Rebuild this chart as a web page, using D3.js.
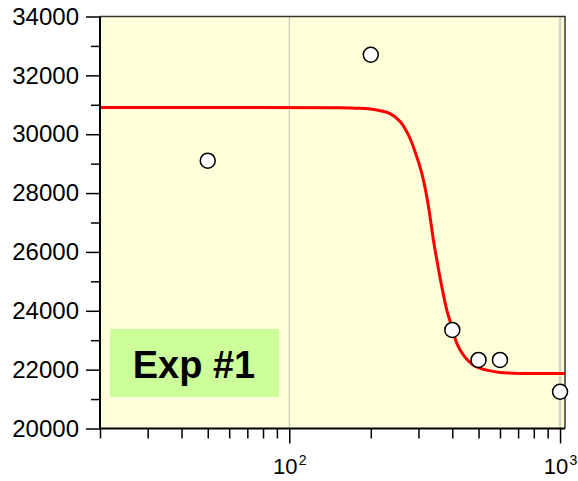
<!DOCTYPE html>
<html>
<head>
<meta charset="utf-8">
<script src="https://cdn.jsdelivr.net/npm/d3@7"></script>
<style>
  html, body { margin: 0; padding: 0; background: #ffffff; }
  svg { display: block; }
  text { font-family: "Liberation Sans", Arial, sans-serif; }
</style>
</head>
<body>
<svg id="chart" width="578" height="481"></svg>
<script>
// ---- data ----
const pointX = [50, 200, 400, 500, 600, 1000];
const pointY = [29100, 32700, 23350, 22330, 22330, 21250];

// fitted curve
const curveX = [20, 154, 182.6, 198.8, 216.5, 235.7, 256.6, 275.4, 291.5, 308.7, 323.7, 340.7, 350.7, 365.9, 381.8, 398.5, 415.8, 439.8, 478.7, 536.5, 600.8, 712.2, 1043];
const curveY = [30905, 30900, 30880, 30855, 30800, 30700, 30429, 29976, 29408, 28673, 27765, 26405, 25724, 24816, 24024, 23456, 22891, 22493, 22153, 21983, 21905, 21871, 21870];

const yMajorTicks = [20000, 22000, 24000, 26000, 28000, 30000, 32000, 34000];
const yMinorTicks = [21000, 23000, 25000, 27000, 29000, 31000, 33000];
const xMajorTicks = [100, 1000];
const xMajorLabels = [["10", "2"], ["10", "3"]];
const xMinorTicks = [20, 30, 40, 50, 60, 70, 80, 90, 200, 300, 400, 500, 600, 700, 800, 900];
const labelText = "Exp #1";

// ---- layout ----
const pLeft = 100, pTop = 16.5, pRight = 565, pBottom = 428.5;
const svg = d3.select("#chart");

const x = d3.scaleLog().domain([20, 1043]).range([pLeft, pRight]);
const y = d3.scaleLinear().domain([20000, 34000]).range([pBottom, pTop]);

// plot background
svg.append("rect")
  .attr("x", pLeft).attr("y", pTop)
  .attr("width", pRight - pLeft).attr("height", pBottom - pTop)
  .attr("fill", "#ffffd9");

// vertical grid lines at decades
svg.append("g").selectAll("line").data(xMajorTicks).join("line")
  .attr("x1", d => x(d)).attr("x2", d => x(d))
  .attr("y1", pTop).attr("y2", pBottom)
  .attr("stroke", (d, i) => i === 0 ? "#c0c0c0" : "#d6d6c0")
  .attr("stroke-width", (d, i) => i === 0 ? 1 : 2.5);

// top and right border
svg.append("path")
  .attr("d", `M${pLeft},${pTop}H${pRight}V${pBottom}`)
  .attr("fill", "none").attr("stroke", "#333").attr("stroke-width", 1.5);

// label box
svg.append("rect")
  .attr("x", 110).attr("y", 329)
  .attr("width", 169).attr("height", 68)
  .attr("fill", "#ccff99");
svg.append("text")
  .attr("x", 194).attr("y", 377.5)
  .attr("text-anchor", "middle")
  .attr("font-size", 38).attr("font-weight", "bold")
  .attr("fill", "#000")
  .text(labelText);

// fitted curve
const curveData = curveX.map((d, i) => [d, curveY[i]]);
svg.append("path")
  .datum(curveData)
  .attr("fill", "none")
  .attr("stroke", "#ff0000")
  .attr("stroke-width", 3)
  .attr("d", d3.line().x(d => x(d[0])).y(d => y(d[1])).curve(d3.curveCatmullRom.alpha(0.5)));

// points
svg.append("g").selectAll("circle").data(pointX.map((d, i) => [d, pointY[i]])).join("circle")
  .attr("cx", d => x(d[0])).attr("cy", d => y(d[1]))
  .attr("r", 7.5)
  .attr("fill", "#ffffff").attr("stroke", "#000").attr("stroke-width", 1.5);

// y axis
const yMajor = svg.append("g").attr("transform", `translate(${pLeft},0)`)
  .call(d3.axisLeft(y).tickValues(yMajorTicks).tickSize(14).tickPadding(7).tickFormat(d3.format("d")));
yMajor.select(".domain").remove();
yMajor.selectAll(".tick line").attr("stroke", "#000").attr("stroke-width", 1.5);
yMajor.selectAll(".tick text").attr("font-size", 24).attr("fill", "#000")
  .attr("font-family", "'Liberation Sans', Arial, sans-serif");

const yMinor = svg.append("g").attr("transform", `translate(${pLeft},0)`)
  .call(d3.axisLeft(y).tickValues(yMinorTicks).tickSize(9).tickFormat(""));
yMinor.select(".domain").remove();
yMinor.selectAll(".tick line").attr("stroke", "#000").attr("stroke-width", 1.5);

// x axis
const xMajor = svg.append("g").attr("transform", `translate(0,${pBottom})`)
  .call(d3.axisBottom(x).tickValues(xMajorTicks).tickSize(15).tickFormat(""));
xMajor.select(".domain").remove();
xMajor.selectAll(".tick line").attr("stroke", "#000").attr("stroke-width", 1.5);

const xMinor = svg.append("g").attr("transform", `translate(0,${pBottom})`)
  .call(d3.axisBottom(x).tickValues(xMinorTicks).tickSize(10).tickFormat(""));
xMinor.select(".domain").remove();
xMinor.selectAll(".tick line").attr("stroke", "#000").attr("stroke-width", 1.5);

// x labels with superscripts
xMajorTicks.forEach((d, i) => {
  const cx = x(d) - 4;
  svg.append("text")
    .attr("x", cx).attr("y", 474)
    .attr("text-anchor", "middle")
    .attr("font-size", 22).attr("fill", "#000")
    .text(xMajorLabels[i][0]);
  svg.append("text")
    .attr("x", cx + 13.5).attr("y", 464.5)
    .attr("text-anchor", "start")
    .attr("font-size", 14).attr("fill", "#000")
    .text(xMajorLabels[i][1]);
});

// axis lines (left and bottom)
svg.append("path")
  .attr("d", `M${pLeft},${pTop}V${pBottom}H${pRight}`)
  .attr("fill", "none").attr("stroke", "#000").attr("stroke-width", 2);
</script>
</body>
</html>
